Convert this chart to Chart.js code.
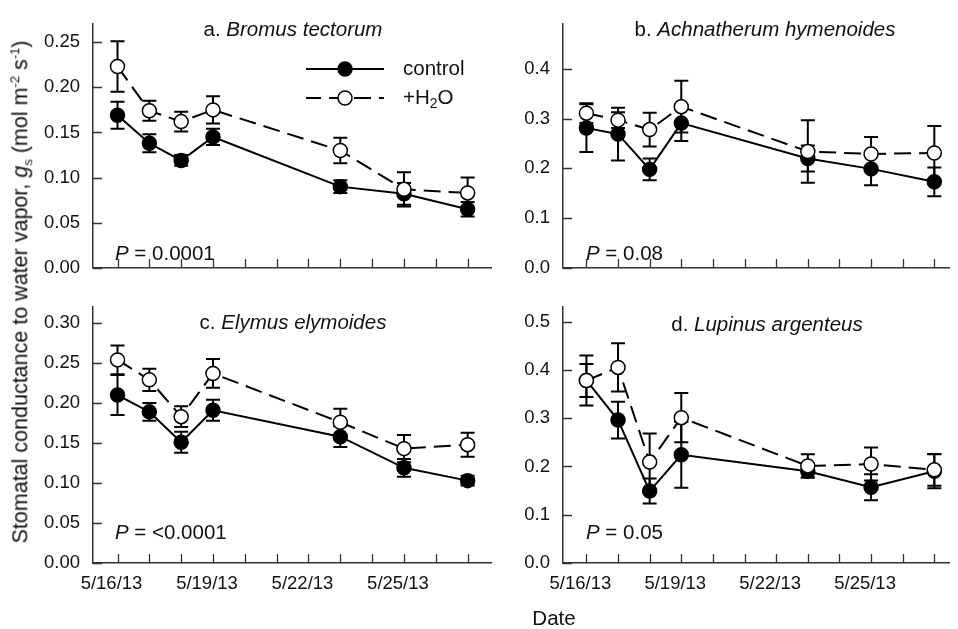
<!DOCTYPE html>
<html>
<head>
<meta charset="utf-8">
<script src="https://cdn.jsdelivr.net/npm/chart.js@4.4.1/dist/chart.umd.min.js"></script>
<style>
body{margin:0;background:#fff;width:958px;height:629px;overflow:hidden;position:relative;font-family:"Liberation Sans",Arial,sans-serif;color:#111;}
canvas{position:absolute;}
#ytitle{position:absolute;left:21px;top:292px;transform:translate(-50%,-50%) rotate(-90deg);white-space:nowrap;font-size:21.5px;line-height:1;}
#ytitle sup,#ytitle sub{font-size:13px;line-height:0;}
#xtitle{position:absolute;left:554px;top:618px;transform:translate(-50%,-50%);font-size:20.5px;}
</style>
</head>
<body>
<canvas id="cA" width="500" height="292" style="left:0;top:0"></canvas>
<canvas id="cB" width="488" height="292" style="left:470px;top:0"></canvas>
<canvas id="cC" width="500" height="346" style="left:0;top:283px"></canvas>
<canvas id="cD" width="488" height="346" style="left:470px;top:283px"></canvas>
<div id="ytitle">Stomatal conductance to water vapor, <i>g</i><sub>s</sub> (mol m<sup>-2</sup> s<sup>-1</sup>)</div>
<div id="xtitle">Date</div>
<script>
// days after 5/16/13
const days = [0, 1, 2, 3, 7, 9, 11];
const tickDays = [0, 3, 6, 9];
const tickText = ["5/16/13", "5/19/13", "5/22/13", "5/25/13"];

// a. Bromus tectorum
const bromusControl = [0.169, 0.138, 0.119, 0.145, 0.090, 0.082, 0.065];
const bromusControlSE = [0.015, 0.010, 0.006, 0.009, 0.007, 0.012, 0.008];
const bromusWater = [0.223, 0.174, 0.162, 0.175, 0.130, 0.087, 0.083];
const bromusWaterSE = [0.028, 0.011, 0.011, 0.015, 0.014, 0.019, 0.017];

// b. Achnatherum hymenoides
const achnControl = [0.281, 0.269, 0.198, 0.291, 0.220, 0.199, 0.173];
const achnControlSE = [0.048, 0.053, 0.022, 0.036, 0.026, 0.033, 0.029];
const achnWater = [0.311, 0.297, 0.278, 0.324, 0.234, 0.229, 0.231];
const achnWaterSE = [0.020, 0.016, 0.034, 0.052, 0.063, 0.034, 0.054];

// c. Elymus elymoides
const elymControl = [0.210, 0.189, 0.151, 0.191, 0.158, 0.119, 0.103];
const elymControlSE = [0.025, 0.011, 0.013, 0.013, 0.013, 0.011, 0.006];
const elymWater = [0.254, 0.229, 0.183, 0.237, 0.176, 0.143, 0.148];
const elymWaterSE = [0.018, 0.014, 0.013, 0.018, 0.017, 0.017, 0.015];

// d. Lupinus argenteus
const lupiControl = [0.378, 0.296, 0.149, 0.224, 0.190, 0.157, 0.190];
const lupiControlSE = [0.034, 0.038, 0.026, 0.068, 0.013, 0.027, 0.035];
const lupiWater = [0.378, 0.405, 0.209, 0.301, 0.201, 0.205, 0.193];
const lupiWaterSE = [0.052, 0.050, 0.059, 0.051, 0.024, 0.034, 0.033];

const FONT = "'Liberation Sans', Arial, sans-serif";
const TXT = 20.5, SUB = 14;
Chart.defaults.font.family = FONT;
Chart.defaults.font.size = 18.5;
Chart.defaults.color = "#111";

const errorBars = {
  id: "errorBars",
  beforeDatasetsDraw(chart){
    const ctx = chart.ctx;
    const xs = chart.scales.x, ys = chart.scales.y;
    ctx.save();
    ctx.strokeStyle = "#000";
    ctx.lineWidth = 2;
    chart.data.datasets.forEach(ds => {
      ds.data.forEach((p, i) => {
        const e = ds.errors[i];
        const x = xs.getPixelForValue(p.x);
        const y1 = ys.getPixelForValue(p.y + e);
        const y2 = ys.getPixelForValue(p.y - e);
        ctx.beginPath();
        ctx.moveTo(x, y1); ctx.lineTo(x, y2);
        ctx.moveTo(x - 7, y1); ctx.lineTo(x + 7, y1);
        ctx.moveTo(x - 7, y2); ctx.lineTo(x + 7, y2);
        ctx.stroke();
      });
    });
    ctx.restore();
  }
};

const innerTicks = {
  id: "innerTicks",
  afterDraw(chart){
    const {ctx, chartArea: a} = chart;
    const x = chart.scales.x, y = chart.scales.y;
    ctx.save();
    ctx.strokeStyle = "#333";
    ctx.lineWidth = 1.3;
    ctx.beginPath();
    x.ticks.forEach(t => {
      const px = Math.round(x.getPixelForValue(t.value)) + 0.5;
      ctx.moveTo(px, a.bottom); ctx.lineTo(px, a.bottom - 9);
    });
    y.ticks.forEach(t => {
      const py = Math.round(y.getPixelForValue(t.value)) + 0.5;
      ctx.moveTo(a.left, py); ctx.lineTo(a.left + 9, py);
    });
    ctx.stroke();
    ctx.restore();
  }
};

function mixedText(ctx, parts, x, y){
  // parts: [text, italic, sub]
  let cx = x;
  parts.forEach(([t, it, sub]) => {
    ctx.font = (it ? "italic " : "") + (sub ? SUB : TXT) + "px " + FONT;
    ctx.fillText(t, cx, sub ? y + 6 : y);
    cx += ctx.measureText(t).width;
  });
  return cx - x;
}

function textWidth(ctx, parts){
  let w = 0;
  parts.forEach(([t, it, sub]) => {
    ctx.font = (it ? "italic " : "") + (sub ? SUB : TXT) + "px " + FONT;
    w += ctx.measureText(t).width;
  });
  return w;
}

const notes = {
  id: "notes",
  afterDraw(chart, args, o){
    const ctx = chart.ctx;
    ctx.save();
    ctx.fillStyle = "#111";
    ctx.textBaseline = "middle";
    ctx.textAlign = "left";
    const tp = [[o.letter, false], [o.species, true]];
    mixedText(ctx, tp, o.titleX - textWidth(ctx, tp) / 2, o.titleY);
    mixedText(ctx, [["P", true], [" = " + o.p, false]], o.pX, o.pY);
    if(o.legend){
      const dsC = chart.data.datasets[0], dsW = chart.data.datasets[1];
      const L = o.legend;
      [[dsC, L.y1, "control"], [dsW, L.y2, null]].forEach(([ds, ly, label]) => {
        ctx.strokeStyle = "#000";
        ctx.lineWidth = ds.borderWidth;
        ctx.setLineDash(ds.borderDash || []);
        ctx.lineDashOffset = 2;
        ctx.beginPath();
        ctx.moveTo(L.x0, ly); ctx.lineTo(L.x1, ly);
        ctx.stroke();
        ctx.setLineDash([]);
        ctx.beginPath();
        ctx.arc((L.x0 + L.x1) / 2, ly, ds.pointRadius, 0, Math.PI * 2);
        ctx.fillStyle = ds.pointBackgroundColor;
        ctx.fill();
        ctx.lineWidth = ds.pointBorderWidth;
        ctx.stroke();
        ctx.fillStyle = "#111";
        if(label) mixedText(ctx, [[label, false]], L.tx, ly);
        else mixedText(ctx, [["+H", false], ["2", false, true], ["O", false]], L.tx, ly);
      });
    }
    ctx.restore();
  }
};

function series(vals, errs, water){
  return {
    label: water ? "+H2O" : "control",
    data: days.map((d, i) => ({x: d, y: vals[i]})),
    errors: errs,
    order: water ? 1 : 2,
    borderColor: "#000",
    borderWidth: 2,
    borderDash: water ? [17, 8] : [],
    tension: 0,
    pointRadius: 7,
    pointHoverRadius: 7,
    pointBorderWidth: 1.5,
    pointBorderColor: "#000",
    pointBackgroundColor: water ? "#fff" : "#000"
  };
}

function buildChart(id, cfg){
  const ctx = document.getElementById(id).getContext("2d");
  return new Chart(ctx, {
    type: "line",
    data: {datasets: [series(cfg.control, cfg.controlSE, false), series(cfg.water, cfg.waterSE, true)]},
    options: {
      responsive: false,
      animation: false,
      devicePixelRatio: 1,
      layout: {padding: {top: cfg.padTop, right: cfg.padRight, left: 0, bottom: 0}},
      plugins: {
        legend: {display: false},
        tooltip: {enabled: false},
        notes: cfg.notes
      },
      scales: {
        x: {
          type: "linear",
          min: cfg.xMin,
          max: cfg.xMax,
          grid: {display: true, drawOnChartArea: false, drawTicks: false},
          border: {display: true, color: "#333", width: 1.5},
          ticks: {
            display: cfg.xLabels,
            stepSize: 1,
            includeBounds: false,
            autoSkip: false,
            maxRotation: 0,
            padding: 10,
            labelOffset: -6,
            callback: v => {
              const k = tickDays.indexOf(v);
              return k >= 0 ? tickText[k] : "";
            }
          },
          afterFit: s => { s.height = cfg.xHeight; }
        },
        y: {
          min: 0,
          max: cfg.yMax,
          grid: {display: true, drawOnChartArea: false, drawTicks: false},
          border: {display: true, color: "#333", width: 1.5},
          ticks: {
            stepSize: cfg.yStep,
            includeBounds: false,
            padding: 13,
            callback: v => v.toFixed(cfg.dec)
          },
          afterFit: s => { s.width = 93; }
        }
      }
    },
    plugins: [errorBars, innerTicks, notes]
  });
}

buildChart("cA", {
  control: bromusControl, controlSE: bromusControlSE, water: bromusWater, waterSE: bromusWaterSE,
  padTop: 12, padRight: 3, xMin: -0.77, xMax: 11.75, xLabels: false, xHeight: 12,
  yMax: 0.27, yStep: 0.05, dec: 2,
  notes: {letter: "a. ", species: "Bromus tectorum", titleX: 293, titleY: 30, p: "0.0001", pX: 115, pY: 254,
    legend: {x0: 306, x1: 384, y1: 69, y2: 98, tx: 403}}
});
buildChart("cB", {
  control: achnControl, controlSE: achnControlSE, water: achnWater, waterSE: achnWaterSE,
  padTop: 10, padRight: 0, xMin: -0.74, xMax: 11.48, xLabels: false, xHeight: 12,
  yMax: 0.49, yStep: 0.1, dec: 1,
  notes: {letter: "b. ", species: "Achnatherum hymenoides", titleX: 295, titleY: 30, p: "0.08", pX: 116, pY: 254}
});
buildChart("cC", {
  control: elymControl, controlSE: elymControlSE, water: elymWater, waterSE: elymWaterSE,
  padTop: 10, padRight: 3, xMin: -0.77, xMax: 11.75, xLabels: true, xHeight: 66,
  yMax: 0.32, yStep: 0.05, dec: 2,
  notes: {letter: "c. ", species: "Elymus elymoides", titleX: 293, titleY: 40, p: "<0.0001", pX: 115, pY: 250}
});
buildChart("cD", {
  control: lupiControl, controlSE: lupiControlSE, water: lupiWater, waterSE: lupiWaterSE,
  padTop: 10, padRight: 0, xMin: -0.74, xMax: 11.48, xLabels: true, xHeight: 66,
  yMax: 0.53, yStep: 0.1, dec: 1,
  notes: {letter: "d. ", species: "Lupinus argenteus", titleX: 297, titleY: 42, p: "0.05", pX: 116, pY: 250}
});
</script>
</body>
</html>
